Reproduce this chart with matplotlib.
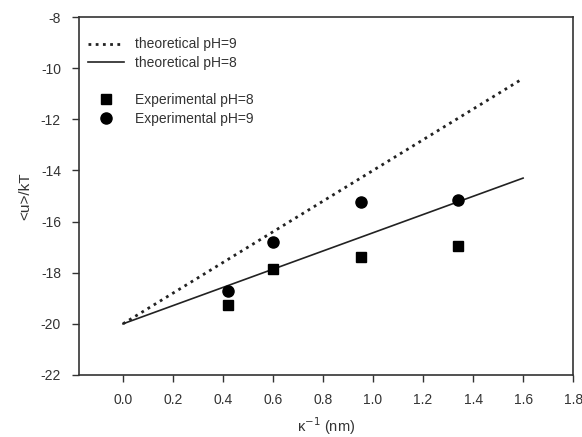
import matplotlib.pyplot as plt
import numpy as np

plt.rcParams['font.family'] = ['Liberation Sans', 'DejaVu Sans']
plt.rcParams['axes.unicode_minus'] = False

# theoretical lines (end points)
theo_x = [0.0, 1.6]
theo_ph9 = [-20.0, -10.4]
theo_ph8 = [-20.0, -14.3]

# measured values
kappa_inv = [0.42, 0.60, 0.95, 1.34]
exp_ph8 = [-19.25, -17.85, -17.4, -16.95]
exp_ph9 = [-18.7, -16.8, -15.25, -15.15]

xticks = [0.0, 0.2, 0.4, 0.6, 0.8, 1.0, 1.2, 1.4, 1.6, 1.8]
yticks = [-22, -20, -18, -16, -14, -12, -10, -8]

fig = plt.figure(figsize=(5.82, 4.37), dpi=100)
ax = fig.add_axes([0.1357, 0.142, 0.849, 0.819])

l9, = ax.plot(theo_x, theo_ph9, color='#222222', linestyle=(0, (1, 1.6)), linewidth=2.0)
l8, = ax.plot(theo_x, theo_ph8, color='#222222', linestyle='-', linewidth=1.2)
s8, = ax.plot(kappa_inv, exp_ph8, 's', color='black', markersize=7, linestyle='none')
s9, = ax.plot(kappa_inv, exp_ph9, 'o', color='black', markersize=8, linestyle='none')
blank, = ax.plot([], [], linestyle='none')

ax.legend([l9, l8, blank, s8, s9],
          ['theoretical pH=9', 'theoretical pH=8', '', 'Experimental pH=8', 'Experimental pH=9'],
          loc='upper left', frameon=False, fontsize=10, handlelength=2.6,
          borderaxespad=0.5, labelspacing=0.33, handletextpad=0.8,
          bbox_to_anchor=(-0.008, 0.978), labelcolor='#333333')

ax.set_xlim(-0.176, 1.8)
ax.set_ylim(-22, -8)
ax.set_xticks(xticks)
ax.set_xticklabels(['%.1f' % v for v in xticks])
ax.set_yticks(yticks)
ax.tick_params(direction='out', length=5, width=1, labelsize=10, colors='#333333', pad=8)
for s in ax.spines.values():
    s.set_color('#333333')
    s.set_linewidth(1.2)

ax.set_xlabel('κ$^{-1}$ (nm)', fontsize=10.5, color='#333333', labelpad=6)
ax.set_ylabel('<u>/kT', fontsize=11, color='#333333', labelpad=6)

fig.savefig('out.png', dpi=100)
